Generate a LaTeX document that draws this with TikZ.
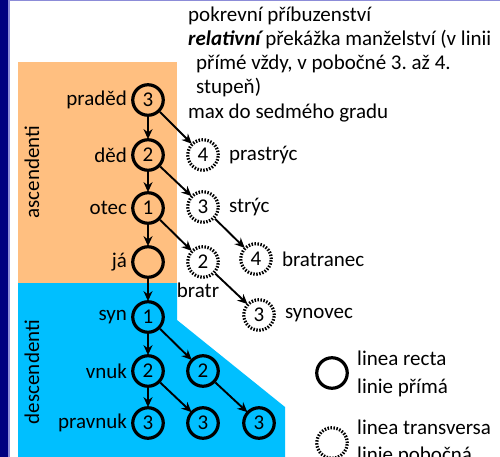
\documentclass[tikz,border=0pt]{standalone}
\usepackage{fontspec}
\setmainfont{Carlito}
\usetikzlibrary{arrows.meta}
\definecolor{navy}{HTML}{000080}
\definecolor{lav}{HTML}{8C8CD8}
\definecolor{asc}{HTML}{FFBF80}
\definecolor{desc}{HTML}{00BFFF}
\frenchspacing
\begin{document}
\begin{tikzpicture}[x=1pt,y=-1pt,
  every node/.style={font=\fontsize{21}{24}\selectfont, inner sep=0pt},
  pc/.style={circle, draw, line width=3.2pt, minimum size=30.5pt, inner sep=0pt},
  dc/.style={pc, dash pattern=on 1.5pt off 1.5pt},
  arr/.style={-{Stealth[length=10pt,width=9pt]}, line width=1.9pt, shorten >=-1pt},
  ll/.style={label={[label distance=4pt]left:#1}},
  rl/.style={label={[label distance=9pt]right:#1}},
  txt/.style={anchor=west}
]
\useasboundingbox (0,0) rectangle (500,457);
\fill[white] (0,0) rectangle (500,457);
\fill[navy] (0,0) rectangle (8,457);
\fill[lav] (8,0) rectangle (9.5,457);
\fill[lav] (8,0) rectangle (500,1.5);
\fill[asc] (18,62) rectangle (177,283);
\fill[desc] (18,283) -- (177,283) -- (177,320) -- (285,407) -- (285,457) -- (18,457) -- cycle;

\node[rotate=90] (asctxt) at (32,172) {ascendenti};
\node[rotate=90] (desctxt) at (32,372) {descendenti};

% top text
\node[txt] (t1) at (188,16) {pokrevní příbuzenství};
\node[txt] (t2) at (188,40) {{\bfseries\itshape relativní} překážka manželství (v linii};
\node[txt] (t3) at (196,64) {přímé vždy, v pobočné 3. až 4.};
\node[txt] (t4) at (196,88) {stupeň)};
\node[txt] (t5) at (188,113) {max do sedmého gradu};

% direct line
\node[pc, ll=praděd] (p3) at (148,100) {3};
\node[pc, ll=děd] (d2) at (148,155) {2};
\node[pc, ll=otec] (o1) at (148,208) {1};
\node[pc, ll=já] (ja) at (148,262) {};
\node[pc, ll=syn] (s1) at (148,317) {1};
\node[pc, ll=vnuk] (v2) at (148,371) {2};
\node[pc, ll=pravnuk] (pv3) at (148,423) {3};
\node[pc] (v2b) at (203,371) {2};
\node[pc] (pv3b) at (203,423) {3};
\node[pc] (pv3c) at (259,423) {3};

% collateral
\node[dc, rl=prastrýc] (ps4) at (203,155) {4};
\node[dc, rl=strýc] (st3) at (203,207) {3};
\node[dc] (br2) at (203,262) {2};
\node (bratr) at (198,290) {bratr};
\node[dc, rl=bratranec] (bn4) at (256,259) {4};
\node[dc, rl=synovec] (sy3) at (259,315) {3};

\draw[arr] (p3) -- (d2);
\draw[arr] (d2) -- (o1);
\draw[arr] (o1) -- (ja);
\draw[arr] (ja) -- (s1);
\draw[arr] (s1) -- (v2);
\draw[arr] (v2) -- (pv3);
\draw[arr] (s1) -- (v2b);
\draw[arr] (v2) -- (pv3b);
\draw[arr] (v2b) -- (pv3c);
\draw[arr] (p3) -- (ps4);
\draw[arr] (d2) -- (st3);
\draw[arr] (o1) -- (br2);
\draw[arr] (st3) -- (bn4);
\draw[arr] (br2) -- (sy3);

% legend
\node[pc] (lg1) at (332,373) {};
\node[txt] (l1a) at (357,358) {linea recta};
\node[txt] (l1b) at (357,388) {linie přímá};
\node[dc] (lg2) at (332,443) {};
\node[txt] (l2a) at (357,427) {linea transversa};
\node[txt] (l2b) at (357,456) {linie pobočná};
\end{tikzpicture}
\end{document}
